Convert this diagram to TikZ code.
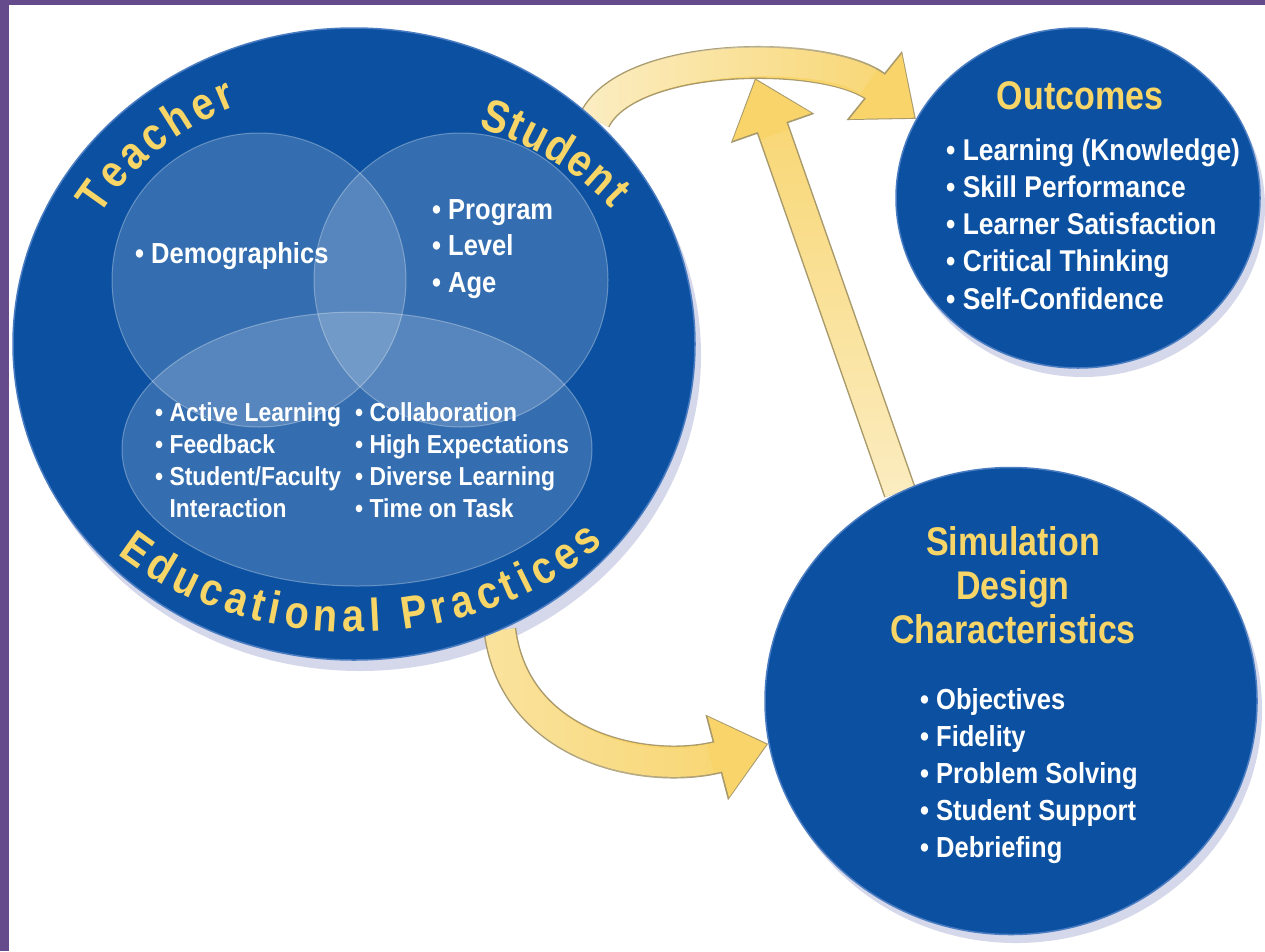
\documentclass[tikz,border=0pt]{standalone}
\usepackage{fontspec}
\setmainfont{Liberation Sans}
\newfontfamily\condi[FakeStretch=0.88]{Liberation Sans}
\newfontfamily\condt[FakeStretch=0.85]{Liberation Sans}
\newfontfamily\curvfam[FakeStretch=0.86]{Liberation Sans}
\usetikzlibrary{shapes.geometric,decorations.text,arrows.meta,fadings}
\definecolor{purp}{HTML}{654B8B}
\definecolor{bblue}{HTML}{0C51A1}
\definecolor{rim}{HTML}{4A7CC2}
\definecolor{shadowc}{HTML}{D5D8EA}
\definecolor{ylw}{HTML}{F7D567}
\definecolor{arrowfill}{HTML}{F8D46A}
\definecolor{arrowedge}{HTML}{A89A6C}
\newcommand\curvf{\curvfam\bfseries\fontsize{46}{46}\selectfont}
\pgfdeclarelayer{bg}
\pgfdeclarelayer{back}
\pgfsetlayers{bg,back,main}
\tikzset{
  bigc/.style={ellipse, inner sep=0pt, fill=bblue, draw=rim, line width=1.5pt},
  venn/.style={ellipse, inner sep=0pt, fill=white, fill opacity=0.17, draw=white, draw opacity=0.3, line width=1pt},
  itm/.style={text=white, align=left, anchor=west, inner sep=0pt},
  ttl/.style={text=ylw, align=center, inner sep=0pt, font=\condt\bfseries\fontsize{40}{44}\selectfont},
  arrowout/.style={line width=33pt, draw=arrowedge},
  arrowin/.style={line width=30pt, draw=arrowfill},
  arrowglow/.style={line width=30pt, draw=white, draw opacity=0.6},
  curved/.style={decorate, decoration={text along path, text align=fit to path}},
}
\begin{document}
\begin{tikzpicture}[x=1pt,y=-1pt]
\useasboundingbox (0,0) rectangle (1265,951);
\begin{pgfonlayer}{bg}
\fill[white] (0,0) rectangle (1265,951);
\fill[purp] (0,0) rectangle (9,951);
\fill[purp] (0,0) rectangle (1265,5);
\end{pgfonlayer}

% circles
\node[bigc, minimum width=682pt, minimum height=632pt] (big) at (354,344) {};
\node[bigc, minimum width=364pt, minimum height=340pt] (outc) at (1078,198) {};
\node[bigc, minimum width=492pt, minimum height=467pt] (sim) at (1011,701) {};
\node[venn, minimum width=294pt, minimum height=294pt] (teach) at (259,280) {};
\node[venn, minimum width=294pt, minimum height=294pt] (stud) at (461,280) {};
\node[venn, minimum width=470pt, minimum height=274pt] (prac) at (357,449) {};

\begin{pgfonlayer}{back}
\fill[shadowc] (360,355) ellipse [x radius=341, y radius=316];
\fill[shadowc] (1083,207) ellipse [x radius=182, y radius=170];
\fill[shadowc] (1016,710) ellipse [x radius=246, y radius=233];
\coordinate (tipv) at (755,78);
% top arrow: education -> outcomes
\draw[arrowout, -{Triangle[length=53.5pt,width=85pt]}] (big.43) .. controls (630,50) and (830,50) .. (outc.154);
\draw[arrowin, shorten >=1.8pt, -{Triangle[length=50pt,width=80pt]}] (big.43) .. controls (630,50) and (830,50) .. (outc.154);
\draw[arrowglow, path fading=east, shorten >=60pt] (big.43) .. controls (630,50) and (830,50) .. (outc.154);
% vertical arrow: simulation -> top
\draw[arrowout, -{Triangle[length=53.5pt,width=85pt]}] (sim.118) -- (tipv);
\draw[arrowin, shorten >=1.8pt, -{Triangle[length=50pt,width=80pt]}] (sim.118) -- (tipv);
\draw[arrowglow, path fading=north, shorten >=60pt] (sim.118) -- (tipv);
% bottom arrow: education -> simulation
\draw[arrowout, -{Triangle[length=53.5pt,width=85pt]}] (big.297) .. controls (515,750) and (650,775) .. (sim.190);
\draw[arrowin, shorten >=1.8pt, -{Triangle[length=50pt,width=80pt]}] (big.297) .. controls (515,750) and (650,775) .. (sim.190);
\draw[arrowglow, draw opacity=0.35, path fading=east, shorten >=60pt] (big.297) .. controls (515,750) and (650,775) .. (sim.190);
\end{pgfonlayer}

% curved titles
\path[curved, decoration={text={|\curvf\color{ylw}|Teacher}}]
  (354,344) ++(-150.3:292.5 and 260) arc[start angle=-150.3, end angle=-113.6, x radius=292.5, y radius=260];
\path[curved, decoration={text={|\curvf\color{ylw}|Student}}]
  (354,344) ++(-66.7:314 and 236) arc[start angle=-66.7, end angle=-35, x radius=314, y radius=236];
\path[curved, decoration={text={|\curvf\color{ylw}|Educational Practices}}]
  (354,344) ++(-227:347 and 288) arc[start angle=-227, end angle=-316, x radius=347, y radius=288];

% big circle texts
\node[itm, font=\condi\bfseries\fontsize{29}{36.5}\selectfont] (demo) at (135,256) {• Demographics};
\node[itm, font=\condi\bfseries\fontsize{29}{36.5}\selectfont] (prog) at (432,249) {• Program\\• Level\\• Age};
\node[itm, font=\condi\bfseries\fontsize{26}{32}\selectfont] (pracl) at (155,460) {• Active Learning\\• Feedback\\• Student/Faculty\\\phantom{• }Interaction};
\node[itm, font=\condi\bfseries\fontsize{26}{32}\selectfont] (pracr) at (355,460) {• Collaboration\\• High Expectations\\• Diverse Learning\\• Time on Task};

% outcomes
\node[ttl] (outt) at (1080,96) {Outcomes};
\node[itm, font=\condi\bfseries\fontsize{30}{37.2}\selectfont] (outl) at (946,224) {• Learning (Knowledge)\\• Skill Performance\\• Learner Satisfaction\\• Critical Thinking\\• Self-Confidence};

% simulation
\node[ttl] (simt) at (1013,585) {Simulation\\Design\\Characteristics};
\node[itm, font=\condi\bfseries\fontsize{29}{37}\selectfont] (siml) at (920,776) {• Objectives\\• Fidelity\\• Problem Solving\\• Student Support\\• Debriefing};
\end{tikzpicture}
\end{document}
